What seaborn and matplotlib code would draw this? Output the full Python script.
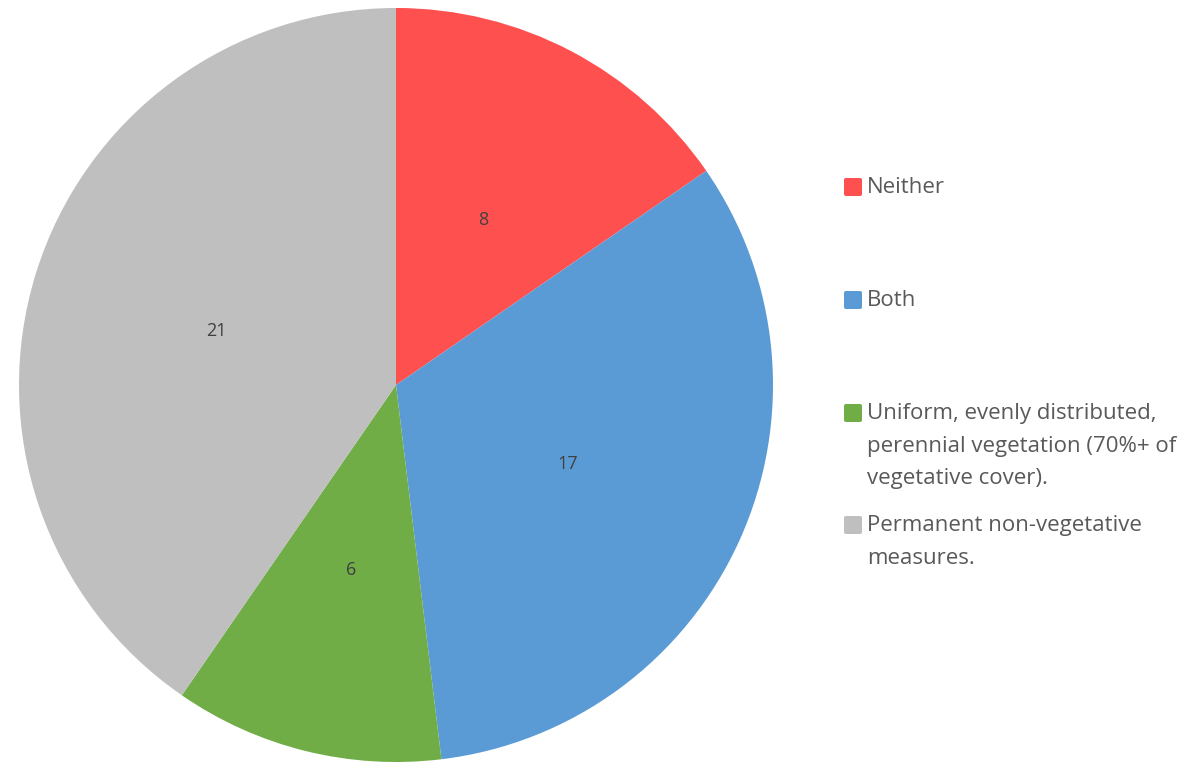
import matplotlib
matplotlib.use("Agg")
import matplotlib.pyplot as plt
import matplotlib.patches as mpatches
import seaborn as sns

# chart data
categories = ["Neither", "Both",
              "Uniform, evenly distributed,\nperennial vegetation (70%+ of\nvegetative cover).",
              "Permanent non-vegetative\nmeasures."]
counts = [8, 17, 6, 21]
colors = ["#FF5050", "#5B9BD5", "#70AD47", "#BFBFBF"]

sns.set_theme(style="white")
plt.rcParams['font.family'] = ['Open Sans', 'DejaVu Sans']

total = sum(counts)

fig = plt.figure(figsize=(12.02, 7.64), dpi=100)
ax = fig.add_axes([18 / 1202, 2 / 764, 756 / 1202, 754 / 764])

wedges, texts, autotexts = ax.pie(
    counts,
    colors=colors,
    startangle=90,
    counterclock=False,
    autopct=lambda p: f"{round(p * total / 100)}",
    pctdistance=0.5,
    wedgeprops=dict(linewidth=0),
    textprops=dict(fontsize=13, color="#404040"),
)
for t in autotexts:
    t.set_va("center_baseline")
ax.set_xlim(-1, 1)
ax.set_ylim(-1, 1)
ax.set_aspect("equal")
ax.axis("off")

# legend drawn on the right, marker aligned with first text line
leg_x = 844 / 1202
marker_tops = [178, 291, 404, 516]
for label, color, top in zip(categories, colors, marker_tops):
    y = 1 - top / 764
    fig.patches.append(mpatches.FancyBboxPatch(
        (leg_x, y - 18 / 764), 18 / 1202, 18 / 764,
        boxstyle="round,pad=0,rounding_size=0.002",
        transform=fig.transFigure, facecolor=color, edgecolor="none"))
    fig.text(leg_x + 23 / 1202, y + 1 / 764, label, ha="left", va="top",
             fontsize=16, color="#595959", linespacing=1.72)

fig.savefig("out.png", dpi=100, facecolor="white")
